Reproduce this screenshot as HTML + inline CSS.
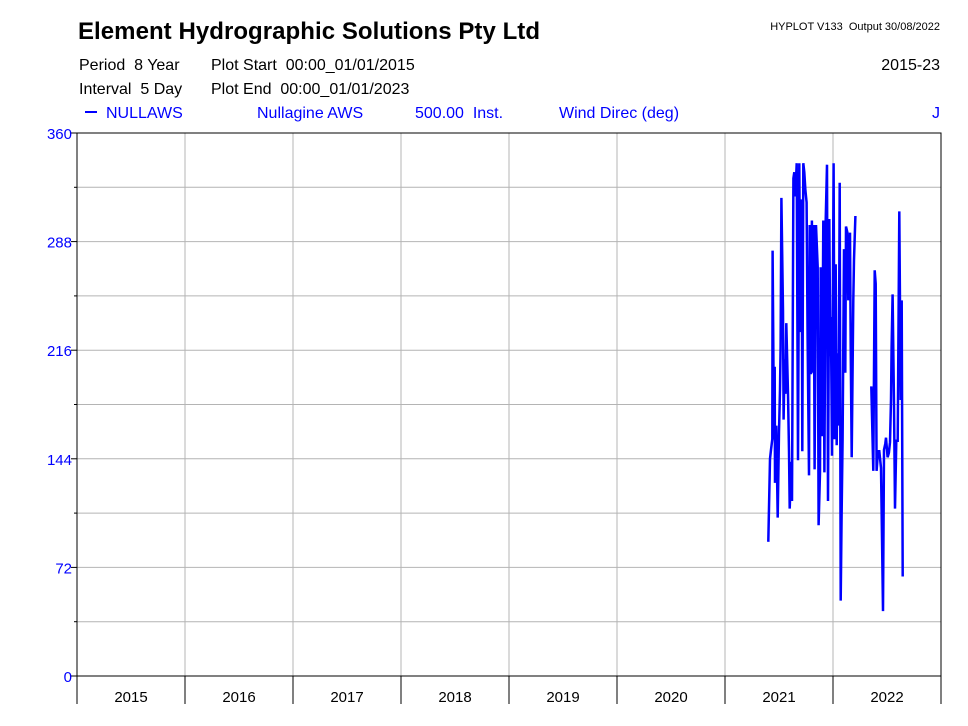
<!DOCTYPE html>
<html><head><meta charset="utf-8"><style>
body{margin:0;background:#fff;width:968px;height:726px;overflow:hidden;font-family:"Liberation Sans",sans-serif}
svg{display:block}
text{white-space:pre}
</style></head><body>
<svg id="c" width="968" height="726">
<text x="78" y="39" font-size="24" font-weight="bold" textLength="462">Element Hydrographic Solutions Pty Ltd</text>
<text x="940" y="30" font-size="11" text-anchor="end">HYPLOT V133  Output 30/08/2022</text>
<text x="79" y="70" font-size="16">Period  8 Year</text>
<text x="211" y="70" font-size="16">Plot Start  00:00_01/01/2015</text>
<text x="940" y="70" font-size="16" text-anchor="end">2015-23</text>
<text x="79" y="94" font-size="16">Interval  5 Day</text>
<text x="211" y="94" font-size="16">Plot End  00:00_01/01/2023</text>
<g fill="#0000ff" font-size="16">
<line x1="85" y1="112" x2="97" y2="112" stroke="#0000ff" stroke-width="2"/>
<text x="106" y="118">NULLAWS</text>
<text x="257" y="118">Nullagine AWS</text>
<text x="415" y="118">500.00  Inst.</text>
<text x="559" y="118">Wind Direc (deg)</text>
<text x="940" y="118" text-anchor="end">J</text>
</g>
<g id="grid"></g>
<g id="axes"></g>
<path id="series" fill="none" stroke="#0000ff" stroke-width="2.5"/>
<rect x="77" y="133" width="864" height="543" fill="none" stroke="#000" stroke-width="1"/>
</svg>
<script>
const yTicks=[0,72,144,216,288,360];
const years=[2015,2016,2017,2018,2019,2020,2021,2022];
const times1=[2021.401,2021.417,2021.426,2021.438,2021.441,2021.454,2021.460,2021.463,2021.475,2021.488,2021.500,2021.509,2021.515,2021.522,2021.537,2021.543,2021.552,2021.559,2021.568,2021.583,2021.593,2021.599,2021.614,2021.620,2021.633,2021.642,2021.651,2021.664,2021.676,2021.688,2021.697,2021.710,2021.716,2021.725,2021.734,2021.744,2021.756,2021.765,2021.778,2021.784,2021.796,2021.805,2021.812,2021.821,2021.830,2021.843,2021.858,2021.867,2021.880,2021.886,2021.898,2021.910,2021.920,2021.932,2021.944,2021.954,2021.966,2021.975,2021.981,2021.991,2022.006,2022.015,2022.025,2022.034,2022.043,2022.052,2022.062,2022.071,2022.080,2022.089,2022.102,2022.114,2022.120,2022.133,2022.142,2022.157,2022.164,2022.173,2022.188,2022.194,2022.207];
const values1=[89,144,150,157,282,157,205,128,166,105,162,190,218,317,242,170,210,187,234,187,149,111,142,116,330,334,318,340,143,340,228,316,149,340,334,322,314,224,133,299,200,302,201,299,137,299,271,100,135,271,159,302,135,302,339,116,303,212,238,146,340,157,273,153,214,166,327,50,106,157,283,201,298,294,249,294,218,145,249,276,305];
const times2=[2022.355,2022.373,2022.386,2022.395,2022.404,2022.417,2022.429,2022.444,2022.454,2022.463,2022.472,2022.484,2022.491,2022.506,2022.518,2022.528,2022.537,2022.543,2022.552,2022.565,2022.574,2022.586,2022.599,2022.614,2022.627,2022.636,2022.645];
const values2=[192,136,269,260,136,149,149,138,92,43,150,154,158,145,148,155,183,218,253,180,111,156,156,308,183,249,66];
const X0=77,X1=941,Y0=676,Y1=133;
const xs=t=>X0+(t-2015)/8*(X1-X0);
const ys=v=>Y0-v/360*(Y0-Y1);
const NS="http://www.w3.org/2000/svg";
const grid=document.getElementById('grid'),axes=document.getElementById('axes');
function mk(tag,attrs,parent){const e=document.createElementNS(NS,tag);for(const k in attrs)e.setAttribute(k,attrs[k]);parent.appendChild(e);return e;}
yTicks.forEach((v,i)=>{
 const y=ys(v);
 if(i>0&&i<yTicks.length-1){const g=mk('line',{x1:X0,x2:X1,y1:y,y2:y,stroke:'#b4b4b4','stroke-width':1},grid);
 
 }
 mk('line',{x1:X0-6,x2:X0,y1:y,y2:y,stroke:'#000'},axes);
 const t=mk('text',{x:X0-5,y:y+6,'font-size':15,fill:'#0000ff','text-anchor':'end'},axes);
 t.textContent=v;
 
 
 if(i<yTicks.length-1){const m=(v+yTicks[i+1])/2;const ym=ys(m);
  const g2=mk('line',{x1:X0,x2:X1,y1:ym,y2:ym,stroke:'#b4b4b4','stroke-width':1},grid);
  
  
  mk('line',{x1:X0-3,x2:X0,y1:ym,y2:ym,stroke:'#000'},axes);}
});
years.forEach((yr,i)=>{
 const x=xs(yr);
 if(i>0){const g=mk('line',{x1:x,x2:x,y1:Y1,y2:Y0,stroke:'#b4b4b4'},grid);
 
 }
 mk('line',{x1:x,x2:x,y1:Y0,y2:Y0+28,stroke:'#000'},axes);
 const t=mk('text',{x:xs(yr+0.5),y:Y0+26,'font-size':15,'text-anchor':'middle'},axes);
 t.textContent=yr;
 
 
});
mk('line',{x1:X1,x2:X1,y1:Y0,y2:Y0+28,stroke:'#000'},axes);
function seg(ts,vs){return ts.map((t,i)=>(i?'L':'M')+xs(t).toFixed(1)+' '+ys(vs[i]).toFixed(1)).join(' ');}
document.getElementById('series').setAttribute('d',seg(times1,values1)+' '+seg(times2,values2));
</script>
</body></html>
